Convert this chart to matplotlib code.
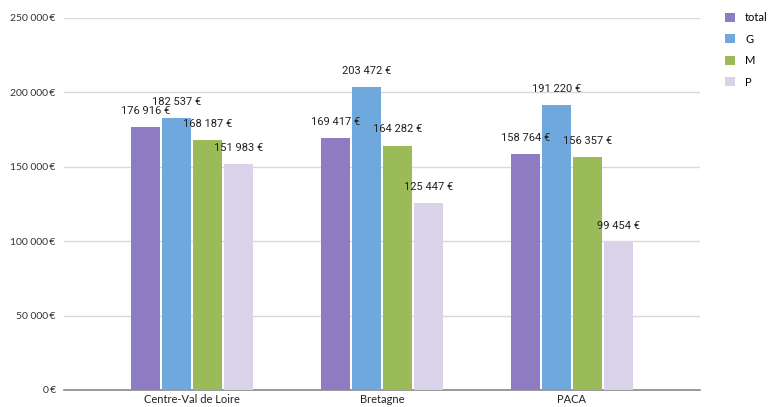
import matplotlib.pyplot as plt
import numpy as np

regions = ["Centre-Val de Loire", "Bretagne", "PACA"]
series = ["total", "G", "M", "P"]
total = [176916, 169417, 158764]
g_vals = [182537, 203472, 191220]
m_vals = [168187, 164282, 156357]
p_vals = [151983, 125447, 99454]
colors = ["#8e7cc3", "#6fa8dc", "#9bbb59", "#d9d2e9"]


def euro(v, sep=" "):
    return "{:,}".format(int(v)).replace(",", " ") + sep + "€"


fig = plt.figure(figsize=(7.73, 4.07), dpi=100)
ax = fig.add_axes([0.0828, 0.0418, 0.8228, 0.914])

x = np.arange(len(regions))
width = 0.152
step = 0.163
all_vals = [total, g_vals, m_vals, p_vals]
for i, (name, vals, col) in enumerate(zip(series, all_vals, colors)):
    pos = x + (i - 1.5) * step
    ax.bar(pos, vals, width, color=col, label=name, zorder=3)
    for px, v in zip(pos, vals):
        ax.annotate(euro(v), (px, v), xytext=(0, 8), textcoords="offset points",
                    ha="center", va="bottom", fontsize=8, family="Roboto",
                    color="#222222", zorder=4)

ax.set_ylim(0, 250000)
ax.set_xlim(-0.674, 2.674)
yt = np.arange(0, 250001, 50000)
ax.set_yticks(yt)
ax.set_yticklabels([euro(v, "\u2009") for v in yt],
                   fontsize=7.5, family="Lato", color="#333333")
ax.set_xticks(x)
ax.set_xticklabels(regions, fontsize=8, family="Lato", color="#222222")
ax.tick_params(axis="y", length=0, pad=6)
ax.tick_params(axis="x", length=0, pad=3)
ax.grid(axis="y", color="#d9d9d9", linewidth=1, zorder=0)
for s in ["top", "right", "left"]:
    ax.spines[s].set_visible(False)
ax.spines["bottom"].set_color("#888888")
ax.spines["bottom"].set_linewidth(1.2)

leg = fig.legend(loc="upper left", bbox_to_anchor=(0.925, 0.995), frameon=False,
                 handlelength=0.9, handleheight=0.9, handletextpad=0.9,
                 labelspacing=0.95, prop={"family": "Lato", "size": 8})

fig.savefig("out.png", dpi=100)
